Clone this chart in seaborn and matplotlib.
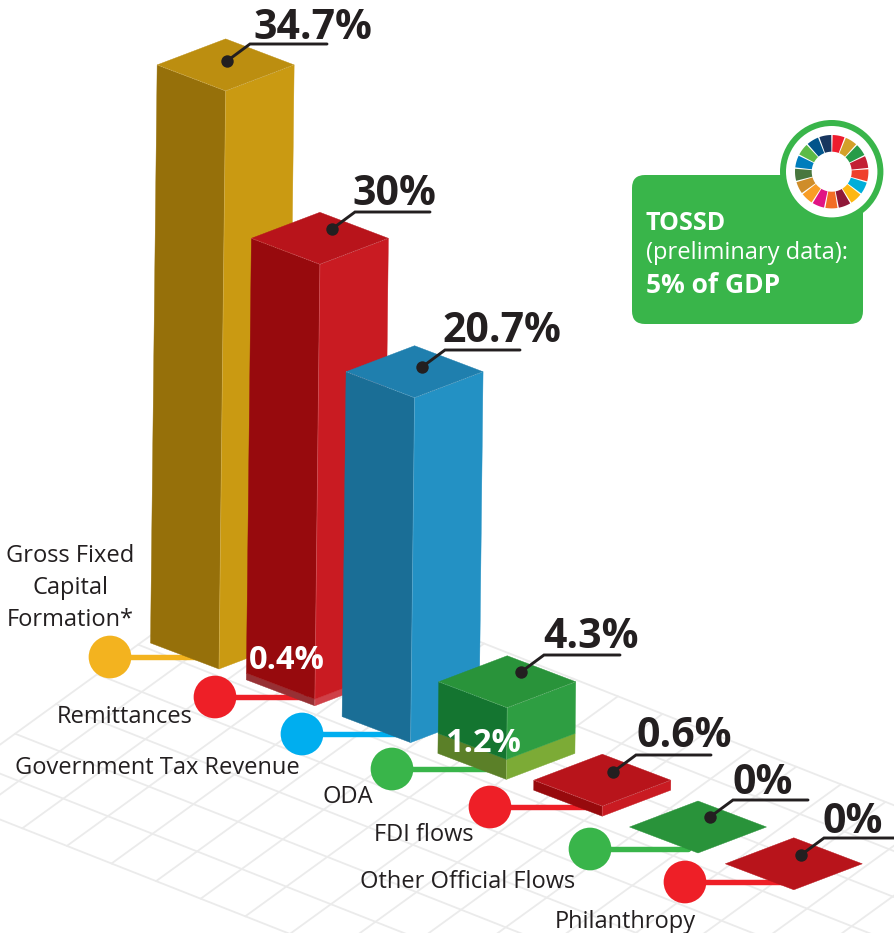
import numpy as np
import pandas as pd
import seaborn as sns
import matplotlib
matplotlib.use("Agg")
import matplotlib.pyplot as plt
from matplotlib.patches import FancyBboxPatch, Circle

# ---------- data ----------
categories = ["Gross Fixed\nCapital\nFormation*", "Remittances", "Government Tax Revenue",
              "ODA", "FDI flows", "Other Official Flows", "Philanthropy"]
value_labels = ["34.7%", "30%", "20.7%", "4.3%", "0.6%", "0%", "0%"]
# Height each column is actually drawn at, in % units (the 30% column is drawn short in the original)
drawn_heights = [34.7, 26.5, 20.7, 4.3, 0.6, 0.0, 0.0]
# Lower stacked band inside a column
base_bands = [0.0, 0.4, 0.0, 1.2, 0.0, 0.0, 0.0]
band_labels = ["", "0.4%", "", "1.2%", "", "", ""]
callout_lines = ["TOSSD", "(preliminary data):", "5% of GDP"]

# ---------- styles and layout ----------
top_colors = ["#BC8E10", "#B8141B", "#1F7FAE", "#29933A", "#B8141B", "#29933A", "#B8141B"]
left_colors = ["#96700A", "#970A0D", "#1A6E96", "#147530", "#970A0D", "#147530", "#970A0D"]
right_colors = ["#CA9A12", "#C91B22", "#2391C4", "#2E9E42", "#C91B22", "#2E9E42", "#C91B22"]
band_left = [None, "#973034", None, "#5B8028", None, None, None]
band_right = [None, "#CF4048", None, "#7CAB36", None, None, None]
dot_colors = ["#F3B31F", "#EE1F27", "#00AEEF", "#39B54A", "#EE1F27", "#39B54A", "#EE1F27"]
sdg_colors = ["#EE1C2E", "#D3A029", "#279B48", "#C31F33", "#EF402B", "#00AED9", "#FDB713",
              "#8F1838", "#F36D25", "#E11484", "#F99D26", "#CF8D2A", "#48773E", "#007DBC",
              "#5DBB46", "#02558B", "#18365F"]
INK = "#231F20"
GREEN = "#39B54A"
W, H = 894, 933
PX_PER_PCT = 16.66
ORIGIN = np.array([219.0, 669.0])
STEP = np.array([95.8, 36.8])
HALF_W, HALF_H = 68.5, 26.0
LEAN = 0.0115

sns.set_theme(style="white")
plt.rcParams["font.family"] = ["Open Sans", "DejaVu Sans"]
fig = plt.figure(figsize=(W / 100, H / 100), dpi=100)
ax = fig.add_axes([0, 0, 1, 1])
ax.set_xlim(0, W)
ax.set_ylim(H, 0)
ax.axis("off")

# ---------- ground grid ----------
G0 = np.array([22.3, 828.3])
GA = np.array([44.6, 17.6])
GB = np.array([41.0, -29.7])
rows = []
lid = 0
for b in range(0, 9):
    for a in (-2, 18):
        p = G0 + a * GA + b * GB
        rows.append((lid, p[0], p[1]))
    lid += 1
for a in range(-2, 19):
    for b in (0, 8):
        p = G0 + a * GA + b * GB
        rows.append((lid, p[0], p[1]))
    lid += 1
grid_df = pd.DataFrame(rows, columns=["line", "x", "y"])
sns.lineplot(data=grid_df, x="x", y="y", units="line", estimator=None, color="#EBEBEB",
             lw=1.3, ax=ax, legend=False, zorder=1)

# ---------- connectors and circles ----------
dot_x = [110, 215, 302, 392, 490, 590, 685]
dot_y = [657, 697, 734, 769, 807, 849, 882]
base_pts = [ORIGIN + i * STEP for i in range(len(categories))]
conn = pd.DataFrame(
    [(i, dot_x[i], dot_y[i]) for i in range(7)] + [(i, base_pts[i][0] - 10, dot_y[i]) for i in range(7)],
    columns=["c", "x", "y"])
for i in range(7):
    sns.lineplot(data=conn[conn.c == i], x="x", y="y", color=dot_colors[i], lw=3.9, ax=ax,
                 legend=False, zorder=2, estimator=None)
dots = pd.DataFrame({"x": dot_x, "y": dot_y, "c": [str(i) for i in range(7)]})
sns.scatterplot(data=dots, x="x", y="y", hue="c", palette=dict(zip(dots.c, dot_colors)),
                s=945, linewidth=0, legend=False, ax=ax, zorder=3)


# ---------- columns ----------
def diamond(p):
    return [p, p + [-HALF_W, -HALF_H], p + [0, -2 * HALF_H], p + [HALF_W, -HALF_H]]


def face(p0, z0, z1, side, color, zo):
    lift = lambda p, z: p + np.array([LEAN * z, -z])
    a, b = lift(p0, z0), lift(p0, z1)
    c = b + side
    d = a + side
    ax.fill([a[0], b[0], c[0], d[0]], [a[1], b[1], c[1], d[1]], color=color, lw=0.3, zorder=zo)


for i, p in enumerate(base_pts):
    zo = 10 + i
    z = drawn_heights[i] * PX_PER_PCT
    zb = base_bands[i] * PX_PER_PCT
    L = np.array([-HALF_W, -HALF_H])
    R = np.array([HALF_W, -HALF_H])
    if z > 0:
        if zb > 0:
            face(p, 0, zb, L, band_left[i], zo)
            face(p, 0, zb, R, band_right[i], zo)
        face(p, zb, z, L, left_colors[i], zo)
        face(p, zb, z, R, right_colors[i], zo)
    t = p + np.array([LEAN * z, -z])
    d = np.array(diamond(t))
    ax.fill(d[:, 0], d[:, 1], color=top_colors[i], lw=0.3, zorder=zo)
    if z > 0:
        ax.plot([d[1, 0], d[0, 0], d[3, 0]], [d[1, 1], d[0, 1], d[3, 1]], color="white",
                lw=0.5, alpha=0.3, zorder=zo, ls=(0, (2, 1)))
        ax.plot([t[0], p[0]], [t[1], p[1]], color="white", lw=0.5, alpha=0.22, zorder=zo)

# ---------- leaders and value labels ----------
pin_x = [227, 332, 422, 521, 613, 710, 801]
pin_y = [61, 229, 367, 672, 772, 817, 855]
rule_end = [327, 430, 520, 620, 711, 808, 894]
lab_x = [253, 352, 442, 543, 636, 733, 823]
lab_base = [39, 205, 342, 648, 747, 794, 833]
for i in range(7):
    ax.plot([pin_x[i], pin_x[i] + 23, rule_end[i]], [pin_y[i], pin_y[i] - 17, pin_y[i] - 17],
            color=INK, lw=2.1, zorder=30, solid_joinstyle="miter")
    ax.text(lab_x[i], lab_base[i], value_labels[i], fontsize=29.5, fontweight="bold", color=INK,
            ha="left", va="baseline", zorder=31)
pins = pd.DataFrame({"x": pin_x, "y": pin_y})
sns.scatterplot(data=pins, x="x", y="y", color=INK, s=80, linewidth=0, legend=False, ax=ax, zorder=32)

band_x = [None, 249, None, 445, None, None, None]
band_base = [None, 669, None, 752, None, None, None]
for i, s in enumerate(band_labels):
    if s:
        ax.text(band_x[i], band_base[i], s, fontsize=23.5, fontweight="bold", color="white",
                ha="left", va="baseline", zorder=40)

# ---------- category labels ----------
cat_x = [70, 57, 15, 322, 374, 360, 555]
cat_base = [626, 723, 774, 803, 841, 888, 928]
LABEL_FS = 17
for i, c in enumerate(categories):
    if "\n" in c:
        for k, part in enumerate(c.split("\n")):
            ax.text(cat_x[i], cat_base[i] - 32 * (2 - k), part, fontsize=LABEL_FS, color=INK,
                    ha="center", va="baseline", zorder=25)
    else:
        ax.text(cat_x[i], cat_base[i], c, fontsize=LABEL_FS, color=INK, ha="left",
                va="baseline", zorder=25)

# ---------- TOSSD callout ----------
ax.add_patch(FancyBboxPatch((632, 175), 231, 149, boxstyle="round,pad=0,rounding_size=13",
                            fc=GREEN, ec="none", zorder=5))
cx, cy = 831.7, 171.7
ax.add_patch(Circle((cx, cy), 51.7, fc=GREEN, ec="none", zorder=6))
ax.add_patch(Circle((cx, cy), 45.7, fc="white", ec="none", zorder=7))
n = len(sdg_colors)
for i, col in enumerate(sdg_colors):
    a0, a1 = np.radians(1.5 + i * 360 / n), np.radians(1.5 + (i + 1) * 360 / n - 2.2)
    th = np.linspace(a0, a1, 12)
    xs = np.r_[cx + 36.7 * np.sin(th), cx + 20 * np.sin(th[::-1])]
    ys = np.r_[cy - 36.7 * np.cos(th), cy - 20 * np.cos(th[::-1])]
    ax.fill(xs, ys, color=col, lw=0, zorder=8)
ax.text(646, 230, callout_lines[0], fontsize=18, fontweight="bold", color="white", va="baseline", zorder=9)
ax.text(646, 259, callout_lines[1], fontsize=17, color="white", va="baseline", zorder=9)
ax.text(646, 293, callout_lines[2], fontsize=19, fontweight="bold", color="white", va="baseline", zorder=9)

ax.set_xlim(0, W)
ax.set_ylim(H, 0)
ax.set_xlabel("")
ax.set_ylabel("")
fig.savefig("out.png", dpi=100)
